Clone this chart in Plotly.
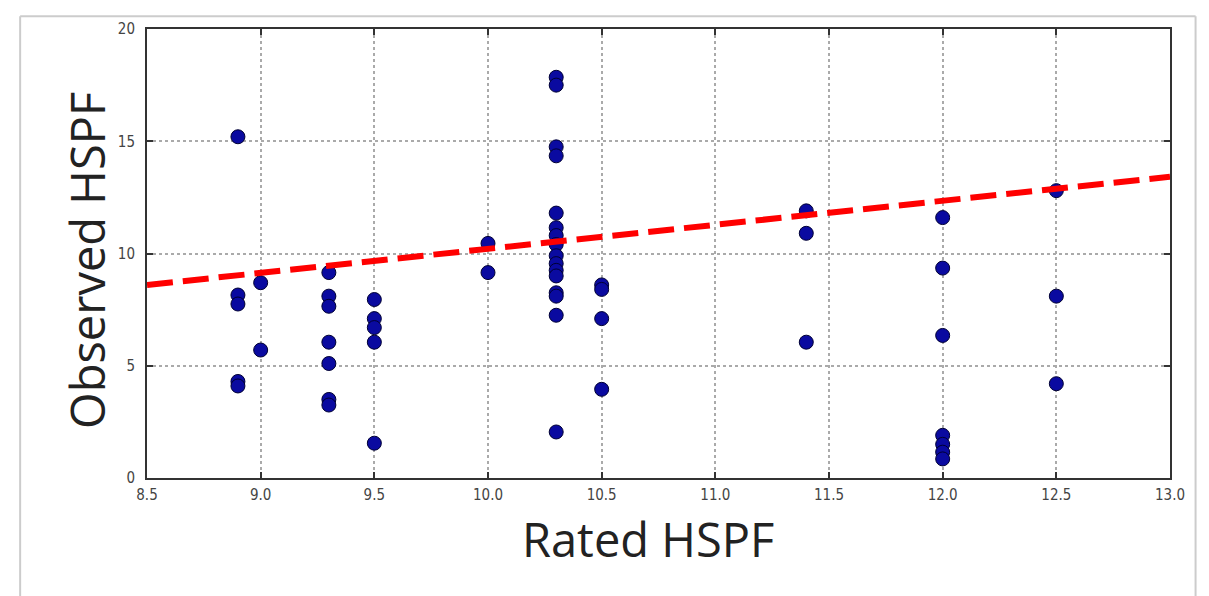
import plotly.graph_objects as go

# Data
rated = (
    [8.9] * 5 + [9.0] * 2 + [9.3] * 7 + [9.5] * 5 + [10.0] * 2 +
    [10.3] * 16 + [10.5] * 4 + [11.4] * 3 + [12.0] * 7 + [12.5] * 3
)
observed = (
    [15.2, 8.15, 7.75, 4.3, 4.1] +
    [8.7, 5.7] +
    [9.15, 8.1, 7.65, 6.05, 5.1, 3.5, 3.25] +
    [7.95, 7.1, 6.7, 6.05, 1.55] +
    [10.45, 9.15] +
    [17.85, 17.5, 14.75, 14.35, 11.8, 11.15, 10.8, 10.4, 9.9, 9.55,
     9.25, 9.0, 8.25, 8.1, 7.25, 2.05] +
    [8.6, 8.4, 7.1, 3.95] +
    [11.9, 10.9, 6.05] +
    [11.6, 9.35, 6.35, 1.9, 1.5, 1.15, 0.85] +
    [12.8, 8.1, 4.2]
)
fit_x = [8.5, 13.0]
fit_y = [8.6, 13.42]

x_ticks = [8.5, 9.0, 9.5, 10.0, 10.5, 11.0, 11.5, 12.0, 12.5, 13.0]
x_tick_text = ["8.5", "9.0", "9.5", "10.0", "10.5", "11.0", "11.5", "12.0", "12.5", "13.0"]
y_ticks = [0, 5, 10, 15, 20]

x_title = "Rated HSPF"
y_title = "Observed HSPF"

fig = go.Figure()
fig.add_trace(go.Scatter(
    x=rated, y=observed, mode="markers",
    marker=dict(size=14, color="#0a0aa0", line=dict(color="#000033", width=1)),
    showlegend=False, cliponaxis=False,
))
fig.add_trace(go.Scatter(
    x=fit_x, y=fit_y, mode="lines",
    line=dict(color="#ff0000", width=6, dash="26px,10px"),
    showlegend=False,
))

tick_font = dict(family="DejaVu Sans Condensed, DejaVu Sans", size=15, color="#444444")
axis_common = dict(
    showline=True, linecolor="#333333", linewidth=2, mirror="allticks",
    ticks="inside", ticklen=6, tickcolor="#333333", tickwidth=1.5,
    showgrid=True, gridcolor="#aaaaaa", griddash="dot", gridwidth=1.5,
    zeroline=False, tickfont=tick_font,
)

fig.update_xaxes(range=[8.5, 13.0], tickvals=x_ticks, ticktext=x_tick_text,
                 ticklabelstandoff=2, **axis_common)
fig.update_yaxes(range=[0, 20], tickvals=y_ticks, ticklabelstandoff=7, **axis_common)

title_font = dict(family="Open Sans", size=47, color="#222222")
fig.update_layout(
    width=1201, height=588,
    margin=dict(l=139, r=39, t=14, b=118),
    plot_bgcolor="white", paper_bgcolor="white",
    annotations=[
        dict(text=x_title, xref="paper", yref="paper", x=0.4897, y=-0.135,
             xanchor="center", yanchor="middle", showarrow=False, font=title_font),
        dict(text=y_title, xref="paper", yref="paper", x=-0.058, y=0.485,
             xanchor="center", yanchor="middle", showarrow=False, textangle=-90,
             font=title_font),
    ],
    shapes=[
        dict(type="line", xref="paper", yref="paper", x0=-0.124, x1=1.025, y0=1.0285, y1=1.0285,
             line=dict(color="#cccccc", width=2)),
        dict(type="line", xref="paper", yref="paper", x0=-0.124, x1=-0.124, y0=1.0285, y1=-0.27,
             line=dict(color="#cccccc", width=2)),
        dict(type="line", xref="paper", yref="paper", x0=1.025, x1=1.025, y0=1.0285, y1=-0.27,
             line=dict(color="#cccccc", width=2)),
    ],
)

fig.write_html("out.html")
